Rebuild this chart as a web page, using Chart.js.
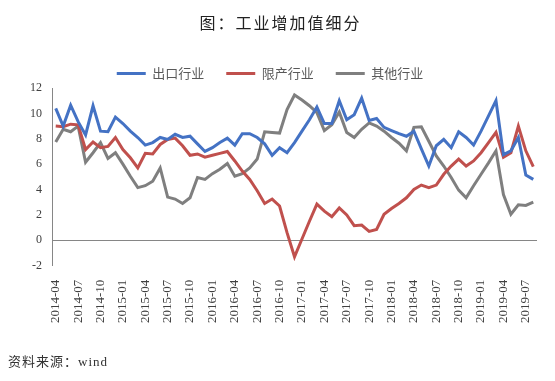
<!DOCTYPE html>
<html>
<head>
<meta charset="utf-8">
<script src="https://cdn.jsdelivr.net/npm/chart.js@4.4.1/dist/chart.umd.min.js"></script>
<style>
  html, body { margin: 0; padding: 0; background: #fff; }
  #wrap { position: relative; width: 555px; height: 381px; }
  #title { position: absolute; left: 3px; top: 11px; width: 555px; text-align: center;
    font: 16px "Noto Sans CJK SC", sans-serif; letter-spacing: 2px; color: #222; line-height: 22px; }
  #source { position: absolute; left: 8px; top: 354px; font: 13px "Liberation Serif", "Noto Sans CJK SC", serif;
    letter-spacing: 1px; color: #333; line-height: 16px; }
</style>
</head>
<body>
<div id="wrap">
  <canvas id="myChart" width="555" height="381"></canvas>
  <div id="title">图：工业增加值细分</div>
  <div id="source">资料来源：wind</div>
</div>
<script>
// months 2014-04 .. 2019-08
let months = [];
for (let y = 2014; y <= 2019; y++) {
  for (let m = 1; m <= 12; m++) {
    if (y === 2014 && m < 4) continue;
    if (y === 2019 && m > 8) continue;
    months.push(y + '-' + (m < 10 ? '0' + m : m));
  }
}

const seriesNames = ['出口行业', '限产行业', '其他行业'];

const exportInd = [10.4, 9.0, 10.65, 9.35, 8.3, 10.6, 8.6, 8.55, 9.7, 9.2,
  8.6, 8.1, 7.5, 7.7, 8.1, 7.95, 8.35, 8.1, 8.2, 7.6,
  7.0, 7.3, 7.7, 8.05, 7.5, 8.4, 8.4, 8.1, 7.6, 6.7,
  7.3, 6.9, 7.7, 8.6, 9.5, 10.5, 9.2, 9.2, 11.0, 9.5,
  9.9, 11.2, 9.45, 9.6, 8.9, 8.65, 8.4, 8.2, 8.6, 7.2,
  5.85, 7.45, 7.95, 7.3, 8.55, 8.1, 7.5, 8.6, 9.8, 11.0,
  6.75, 7.05, 8.1, 5.15, 4.8];

const limitInd = [9.0, 8.95, 9.15, 9.1, 7.15, 7.75, 7.3, 7.4, 8.1, 7.15,
  6.5, 5.7, 6.85, 6.8, 7.55, 7.95, 8.05, 7.45, 6.7, 6.8,
  6.55, 6.7, 6.85, 7.0, 6.25, 5.45, 4.8, 3.9, 2.9, 3.25,
  2.7, 0.6, -1.3, 0.1, 1.5, 2.85, 2.3, 1.85, 2.55, 2.0,
  1.15, 1.2, 0.7, 0.85, 2.05, 2.5, 2.9, 3.35, 4.0, 4.35,
  4.15, 4.35, 5.2, 5.85, 6.4, 5.85, 6.25, 6.9, 7.7, 8.5,
  6.55, 6.9, 9.0, 7.05, 5.8];

const otherInd = [7.75, 8.75, 8.55, 9.0, 6.15, 6.9, 7.7, 6.45, 6.9, 6.0,
  5.05, 4.15, 4.3, 4.65, 5.7, 3.4, 3.25, 2.9, 3.35, 4.95,
  4.8, 5.25, 5.6, 6.05, 5.05, 5.25, 5.7, 6.4, 8.55, 8.5,
  8.45, 10.3, 11.45, 11.05, 10.6, 10.05, 8.65, 9.1, 10.1, 8.5,
  8.1, 8.75, 9.25, 9.0, 8.6, 8.1, 7.65, 7.05, 8.9, 8.95,
  7.8, 6.65, 5.85, 4.95, 3.95, 3.35, 4.3, 5.2, 6.1, 7.05,
  3.6, 2.05, 2.8, 2.75, 3.0];

const yMin = -2, yMax = 12, yStep = 2;

// squeeze the legend box so the plot starts right under it
const legendHeight = {
  id: 'legendHeight',
  beforeUpdate(chart) {
    let lg = chart.legend;
    if (lg && !lg._patched) {
      let fit = lg.fit;
      lg.fit = function () {
        fit.call(this);
        this.height = 43;
      };
      lg._patched = true;
    }
  }
};

function line(label, data, color) {
  return {
    label: label,
    data: data,
    borderColor: color,
    backgroundColor: color,
    borderWidth: 3,
    pointRadius: 0,
    pointHoverRadius: 0,
    tension: 0,
    fill: false
  };
}

const myChart = new Chart(document.getElementById('myChart'), {
  type: 'line',
  data: {
    labels: months,
    datasets: [
      line(seriesNames[0], exportInd, '#4472C4'),
      line(seriesNames[1], limitInd, '#C0504D'),
      line(seriesNames[2], otherInd, '#7F7F7F')
    ]
  },
  options: {
    responsive: false,
    animation: false,
    layout: { padding: { top: 45, left: 0, right: 15, bottom: 52 } },
    plugins: {
      tooltip: { enabled: false },
      title: { display: false },
      legend: {
        position: 'top',
        labels: {
          usePointStyle: true,
          pointStyle: 'line',
          pointStyleWidth: 29,
          boxWidth: 29,
          padding: 22,
          color: '#595959',
          font: { family: '"Noto Sans CJK SC", sans-serif', size: 13 }
        }
      }
    },
    scales: {
      x: {
        offset: true,
        grid: { display: false },
        border: { display: false },
        ticks: {
          autoSkip: false,
          maxRotation: 90,
          minRotation: 90,
          padding: 6,
          color: '#404040',
          font: { family: '"Liberation Serif", serif', size: 13 },
          callback: function (v, i) { return i % 3 === 0 ? months[i] : ''; }
        }
      },
      y: {
        min: yMin,
        max: yMax,
        afterFit: function (scale) { scale.width = 52; },
        border: { display: true, color: '#868686', width: 1 },
        grid: {
          drawTicks: false,
          color: function (ctx) { return ctx.tick && ctx.tick.value === 0 ? '#868686' : 'rgba(0,0,0,0)'; },
          lineWidth: 1
        },
        ticks: {
          stepSize: yStep,
          padding: 10,
          color: '#404040',
          font: { family: '"Liberation Serif", serif', size: 12 }
        }
      }
    }
  },
  plugins: [legendHeight]
});
</script>
</body>
</html>
